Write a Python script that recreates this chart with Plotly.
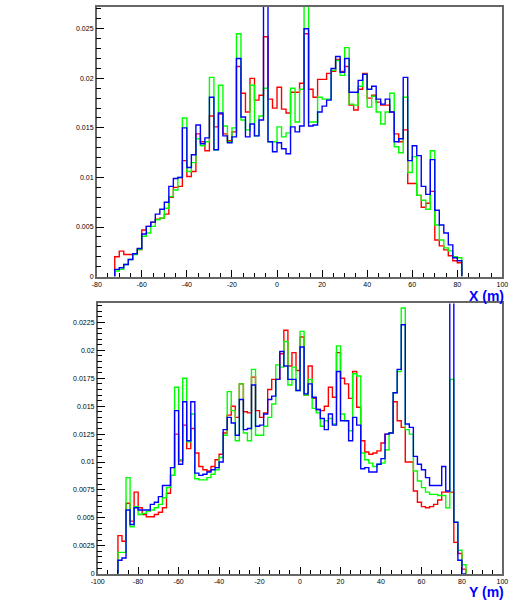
import numpy as np
import plotly.graph_objects as go

# ---------------- data (values in units of 1e-3) ----------------
x_bin_start = -72.0
x_bin_width = 2.0
x_red = [2.0, 2.57, 2.23, 2.23, 2.3, 2.73, 4.7, 5.07, 5.5, 5.8, 5.9, 6.3, 8.0, 9.0, 9.1, 11.7, 10.1, 10.6,
         14.4, 13.6, 12.7, 16.2, 15.1, 16.4, 14.4, 13.7, 14.6, 21.2, 18.5, 16.6, 20.0, 17.8, 18.3, 24.2,
         17.9, 17.0, 19.1, 16.9, 16.5, 18.6, 18.6, 19.5, 24.5, 18.9, 18.1, 19.9, 19.9, 20.5, 20.7, 21.9,
         20.7, 21.2, 17.3, 16.8, 18.9, 20.5, 18.0, 18.3, 17.6, 17.3, 17.3, 16.6, 14.4, 13.6, 14.8, 9.4,
         9.4, 8.2, 7.0, 7.4, 8.6, 3.7, 3.1, 2.7, 2.1, 1.6, 1.4]
x_green = [0.57, 0.73, 1.23, 1.73, 2.23, 2.73, 4.07, 4.4, 5.07, 5.73, 5.9, 6.9, 8.07, 8.73, 10.0, 16.0, 10.6,
           11.5, 13.9, 13.2, 13.6, 20.1, 12.8, 19.3, 15.2, 13.6, 15.0, 24.5, 15.8, 14.8, 19.3, 14.2, 16.2,
           19.0, 13.6, 13.6, 15.1, 14.1, 14.5, 19.0, 15.6, 18.9, 29.0, 15.6, 15.6, 18.1, 17.9, 17.9, 20.8,
           21.8, 20.3, 23.1, 17.4, 17.3, 19.2, 20.4, 17.1, 18.2, 16.6, 15.4, 16.6, 18.5, 13.1, 12.5, 18.1,
           10.5, 12.1, 8.2, 7.7, 6.8, 12.7, 5.2, 3.7, 2.9, 2.6, 2.0, 1.9]
x_blue = [0.73, 0.9, 1.23, 1.73, 2.3, 2.83, 4.3, 5.07, 5.5, 6.3, 6.8, 7.5, 9.1, 9.9, 10.0, 15.0, 11.0, 12.3,
          15.3, 13.4, 14.0, 18.1, 12.8, 16.5, 14.2, 13.5, 14.1, 22.0, 16.1, 14.1, 15.4, 14.2, 15.8, 30.0,
          13.6, 12.6, 13.5, 12.9, 12.4, 15.1, 14.6, 15.2, 25.0, 15.2, 15.3, 16.6, 17.2, 17.8, 21.0, 22.2,
          20.6, 22.0, 18.6, 18.6, 19.8, 20.4, 18.9, 19.2, 17.9, 17.4, 17.9, 16.6, 13.6, 13.9, 20.1, 11.7,
          13.2, 12.2, 9.1, 8.3, 11.8, 6.7, 5.2, 4.4, 3.2, 1.9, 1.6]

y_bin_start = -90.0
y_bin_width = 2.0
y_red = [3.4, 2.9, 6.3, 4.7, 7.3, 5.9, 5.3, 5.1, 5.1, 5.3, 5.5, 5.9, 7.2, 8.8, 12.5, 10.1, 13.3, 11.2, 13.0,
         10.8, 9.6, 9.3, 9.2, 9.6, 10.2, 10.7, 12.6, 14.2, 15.0, 14.0, 17.0, 14.5, 14.4, 17.6, 14.6, 14.0,
         14.4, 16.5, 17.4, 17.4, 19.7, 21.8, 18.6, 19.8, 18.2, 21.2, 16.0, 18.6, 15.7, 14.7, 14.6, 15.0,
         16.7, 15.8, 19.8, 17.5, 17.0, 15.7, 18.1, 14.9, 11.9, 10.9, 10.7, 10.8, 11.0, 11.7, 12.5, 12.6,
         15.4, 13.7, 13.1, 10.0, 10.0, 7.4, 6.4, 6.0, 5.9, 6.0, 6.2, 6.6, 7.3, 7.3, 7.3, 2.8, 1.8, 0.4]
y_green = [1.9, 1.9, 8.6, 4.2, 6.0, 5.3, 5.4, 5.6, 5.7, 5.9, 6.2, 6.8, 7.7, 8.8, 16.7, 10.2, 17.5, 11.8, 14.3,
           8.5, 8.4, 8.4, 8.6, 8.9, 9.3, 10.4, 12.4, 16.3, 14.6, 11.9, 17.0, 12.6, 11.9, 18.3, 12.4, 12.4,
           13.2, 14.0, 15.2, 18.7, 18.5, 20.8, 16.9, 18.5, 16.4, 21.7, 16.0, 17.4, 14.8, 14.4, 13.2, 13.7,
           13.9, 13.4, 20.4, 14.3, 13.7, 12.8, 17.9, 17.7, 10.8, 10.2, 9.9, 9.6, 9.8, 9.9, 11.1, 12.6,
           16.2, 18.1, 23.8, 12.9, 12.5, 9.2, 8.3, 7.7, 7.3, 7.1, 7.1, 7.0, 7.0, 5.9, 17.4, 4.6, 2.1, 0.8]
y_blue = [1.2, 1.4, 5.7, 4.4, 5.9, 5.7, 5.7, 5.7, 6.2, 6.4, 6.9, 7.9, 7.9, 9.5, 14.6, 9.8, 15.4, 11.9, 15.4,
          9.0, 8.8, 8.9, 9.1, 9.3, 9.5, 10.0, 12.9, 14.0, 13.5, 12.4, 15.6, 12.9, 13.0, 16.9, 13.2, 13.3,
          14.3, 15.6, 15.9, 17.4, 19.9, 18.6, 17.4, 17.4, 16.4, 20.3, 16.1, 17.0, 15.8, 14.7, 13.9, 12.9,
          14.3, 13.3, 18.1, 13.7, 13.7, 11.9, 14.0, 13.3, 9.4, 9.5, 9.1, 9.1, 9.8, 10.3, 12.5, 12.6,
          16.2, 18.3, 22.3, 13.4, 13.1, 10.5, 9.8, 9.3, 8.6, 7.9, 7.9, 7.9, 9.6, 7.4, 30.0, 4.6, 1.2, 0.0]

x_ticks_top = [-80, -60, -40, -20, 0, 20, 40, 60, 80, 100]
x_ticks_bot = [-100, -80, -60, -40, -20, 0, 20, 40, 60, 80, 100]
y_ticks_top = [0, 0.005, 0.01, 0.015, 0.02, 0.025]
y_ticks_bot = [0, 0.0025, 0.005, 0.0075, 0.01, 0.0125, 0.015, 0.0175, 0.02, 0.0225]
x_title = "X (m)"
y_title = "Y (m)"

colors = {"red": "#ff0000", "green": "#00ff00", "blue": "#0000ff"}


def step(start, width, vals):
    v = np.asarray(vals) * 1e-3
    edges = start + width * np.arange(len(v) + 1)
    xs = np.concatenate([[edges[0]], edges])
    ys = np.concatenate([[0.0], v, [0.0]])
    return xs, ys


fig = go.Figure()
for name, vals in [("red", x_red), ("green", x_green), ("blue", x_blue)]:
    xs, ys = step(x_bin_start, x_bin_width, vals)
    fig.add_trace(go.Scatter(x=xs, y=ys, mode="lines", line=dict(color=colors[name], width=1.4, shape="hv"),
                             xaxis="x", yaxis="y", showlegend=False, hoverinfo="skip"))
for name, vals in [("red", y_red), ("green", y_green), ("blue", y_blue)]:
    xs, ys = step(y_bin_start, y_bin_width, vals)
    fig.add_trace(go.Scatter(x=xs, y=ys, mode="lines", line=dict(color=colors[name], width=1.4, shape="hv"),
                             xaxis="x2", yaxis="y2", showlegend=False, hoverinfo="skip"))

W, H = 524, 602
xdom = [92 / W, 508 / W]
xdom2 = [93 / W, 508 / W]
ydom1 = [1 - 278 / H, 1 - 7 / H]
ydom2 = [1 - 576.5 / H, 1 - 305 / H]

tickfont = dict(family="Liberation Sans, Arial, sans-serif", size=7, color="#000")
axcommon = dict(showgrid=False, zeroline=False, showline=True, linecolor="#666", linewidth=1.5,
                mirror=True, ticks="inside", tickcolor="#000", tickwidth=1, tickfont=tickfont)

fig.update_layout(
    width=W, height=H, margin=dict(l=0, r=0, t=0, b=0),
    paper_bgcolor="white", plot_bgcolor="white",
    xaxis=dict(domain=xdom, range=[-80, 100], anchor="y", tickvals=x_ticks_top,
               ticktext=[str(t) for t in x_ticks_top], ticklen=7,
               minor=dict(dtick=5, tick0=0, ticklen=4, ticks="inside", tickcolor="#000"), **axcommon),
    yaxis=dict(domain=ydom1, range=[0, 0.0272], anchor="x", tickvals=y_ticks_top,
               ticktext=[f"{t:g}" for t in y_ticks_top], ticklen=8,
               minor=dict(dtick=0.001, tick0=0, ticklen=5, ticks="inside", tickcolor="#000"), **axcommon),
    xaxis2=dict(domain=xdom2, range=[-100, 100], anchor="y2", tickvals=x_ticks_bot,
                ticktext=[str(t) for t in x_ticks_bot], ticklen=7,
                minor=dict(dtick=5, tick0=0, ticklen=4, ticks="inside", tickcolor="#000"), **axcommon),
    yaxis2=dict(domain=ydom2, range=[0, 0.0242], anchor="x2", tickvals=y_ticks_bot,
                ticktext=[f"{t:g}" for t in y_ticks_bot], ticklen=8,
                minor=dict(dtick=0.0005, tick0=0, ticklen=5, ticks="inside", tickcolor="#000"), **axcommon),
    annotations=[
        dict(text="<b>" + x_title + "</b>", xref="paper", yref="paper", x=512 / W, y=1 - 287 / H,
             xanchor="right", yanchor="top", showarrow=False,
             font=dict(family="Liberation Sans, Arial, sans-serif", size=14, color="#0000ff")),
        dict(text="<b>" + y_title + "</b>", xref="paper", yref="paper", x=512 / W, y=1 - 585 / H,
             xanchor="right", yanchor="top", showarrow=False,
             font=dict(family="Liberation Sans, Arial, sans-serif", size=14, color="#0000ff")),
    ],
)

fig.write_html("out.html")
